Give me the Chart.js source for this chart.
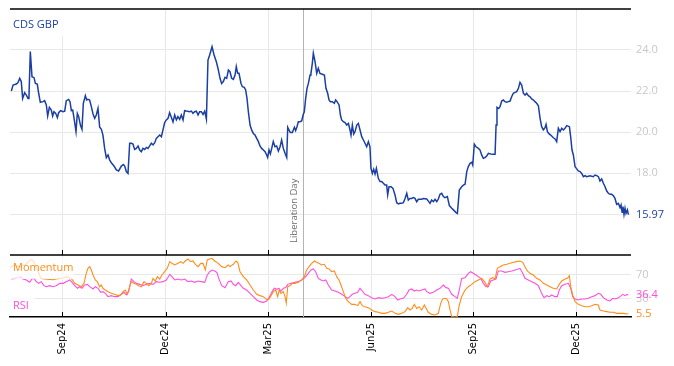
<!DOCTYPE html>
<html>
<head>
<meta charset="utf-8">
<script src="https://cdn.jsdelivr.net/npm/chart.js@4"></script>
<style>
  html, body { margin: 0; padding: 0; background: #fff; }
  #wrap { width: 674px; height: 366px; }
</style>
</head>
<body>
<div id="wrap"><canvas id="cdsChart" width="674" height="366"></canvas></div>
<script>
// x positions are trading-calendar days counted from mid July 2024
const tickDays = [46.4, 138, 229, 320.3, 410.7, 502];
const tickLabels = ["Sep24", "Dec24", "Mar25", "Jun25", "Sep25", "Dec25"];
const libDay = 259.8;
const topTicks = [16, 18, 20, 22, 24];
const bottomTicks = [30, 70];

const cdsDays = [1.2,2.7,5.6,7.1,8.6,10,11.2,13,14.5,16,16.8,18,19.5,21.3,22.5,24.2,25.4,26.9,29.3,30.7,32.2,33.4,34.9,36.6,37.8,39,40.5,42,43.1,44.9,47,48.5,49.9,52,53.2,54.4,55.6,57,58.5,59.7,60.9,62.4,63.8,65,66.8,68,69.1,70.6,72.1,73.6,75.1,76.5,78,79.5,81,82.4,83.9,85.4,86.9,88.4,89.8,92.2,94.3,96.3,98.7,100.5,101.7,103.1,104.6,106.1,107.6,109,110.5,112,113.5,115,116.4,117.9,119.4,120.9,122.3,123.8,125.3,126.8,128.3,129.7,131.2,132.7,134.2,135.6,137.1,138.6,140.1,141.5,143,144.5,146,147.5,148.9,150.4,151.9,153.4,154.8,156.3,159.3,160.8,162.2,163.7,165.2,166.7,168.1,169.6,171.1,172.6,174.1,175.5,177,179.1,180.9,182.9,184.4,186.2,187.6,189.1,190.6,192.1,193.6,195,196.5,198,199.5,200.6,201.8,203,204.8,206,207.7,208.9,210.1,211.3,212.8,214.2,215.7,217.2,218.7,220.2,221.6,223.1,224.6,226.1,227.5,228.4,229.6,230.8,232,233.4,234.9,236.4,237.9,239.4,240.8,242.3,243.8,245.3,246.2,247.3,248.5,250.3,252.1,253.2,254.4,255.6,257.1,258.6,259.8,260.9,262.1,263.3,264.5,266,266.8,268,268.9,270.4,271.9,273.3,274.8,276.3,278.7,280.1,281.6,282.8,284,285.8,287.5,288.7,289.9,291.7,292.9,294,295.5,297,298.5,300,301.4,302.3,303.5,304.7,305.9,307.4,308.8,310.3,311.8,313.3,314.7,316.2,317.7,319.1,320,321.2,322.4,323.6,324.8,326.5,328,329.5,331,332.4,333.9,334.8,336,337.8,339.5,341.3,342.8,344.3,345.7,347.2,348.7,350.2,351.7,353.1,354.6,356.1,357.6,359,360.5,362,365,366.4,369.4,370.9,372.3,373.8,375.3,376.8,378.3,379.7,381.2,382.7,384.2,385.6,387.7,389.5,391.6,393.1,395.4,396.6,397.5,398.3,400.4,401.9,403.4,404.9,406.3,407.8,409.3,410.2,411.6,413.1,415.2,416.7,418.1,419.6,421.1,422.6,424.1,426.1,428.5,430,430.9,431.7,433.2,434.4,435.9,437.4,438.8,440.3,441.8,443.3,444.7,446.2,447.7,449.2,450.7,452.1,453.6,455.1,456.6,458,459.5,461,462.5,464,465.4,466.9,468.4,469.9,471.3,472.8,474.3,475.2,476.4,477.5,479.3,481.7,483.2,484.6,486.1,487.6,489.1,490.5,492,493.5,495.9,497,498.2,499.4,500.9,502.4,503.8,505.3,506.8,508.3,509.8,511.2,514.2,517.1,518.6,520.1,521.6,523,524.5,526,527.5,529,530.4,531.9,533.4,534.9,536.3,537.8,539.3,540.8,541.7,542.6,543.4,544.3,545.2,546.1,547.3,548.2];
const cdsValues = [22.00,22.29,22.34,22.41,22.62,22.46,21.64,21.92,21.80,21.64,21.69,23.92,22.70,22.65,22.37,22.34,21.89,21.45,21.48,21.53,21.32,20.78,21.20,21.07,20.78,20.99,20.91,20.70,20.94,21.04,20.99,21.02,21.53,21.59,21.48,21.04,21.07,20.59,20.02,20.91,20.75,20.34,20.13,21.40,21.77,21.56,21.59,21.56,21.24,20.88,20.67,20.83,21.15,20.23,20.13,19.85,19.20,18.75,18.88,18.63,18.50,18.34,18.15,18.10,18.34,18.41,18.34,18.07,17.98,19.45,19.45,19.41,19.15,19.20,19.32,19.12,19.04,19.20,19.15,19.25,19.20,19.32,19.45,19.37,19.48,19.69,19.77,19.85,19.77,20.10,20.46,20.59,20.67,20.94,20.72,20.49,20.83,20.59,20.75,20.62,20.83,20.59,21.04,21.02,20.99,21.02,20.91,20.99,21.02,20.83,20.99,20.99,20.86,21.02,20.63,23.51,23.76,24.16,23.76,23.43,23.10,22.62,22.37,22.46,22.67,22.62,23.02,22.94,22.62,22.57,22.78,23.19,22.86,22.86,22.37,22.21,22.18,22.05,21.64,20.99,20.34,20.10,19.93,19.85,19.69,19.53,19.32,19.20,19.12,19.04,18.88,18.76,19.12,18.93,19.20,19.53,19.28,19.32,19.07,19.28,19.61,19.20,18.96,18.76,20.23,20.10,19.97,19.97,20.23,20.07,20.26,20.50,20.50,20.54,20.83,20.99,21.64,22.13,22.37,22.78,22.86,23.35,23.84,23.43,22.86,23.11,22.86,22.83,22.78,22.13,21.89,21.56,21.48,21.48,21.40,21.56,21.48,21.32,20.83,20.59,20.50,20.46,20.34,20.42,20.10,19.85,20.34,19.90,20.02,20.34,20.42,20.10,19.77,19.61,19.45,19.28,19.53,19.28,18.23,17.98,18.18,17.95,18.23,17.74,17.58,17.58,17.50,17.41,17.41,16.93,17.33,17.33,17.25,16.93,16.55,16.49,16.52,16.52,16.55,16.76,17.01,16.68,16.76,16.76,16.80,16.76,16.60,16.72,16.72,16.76,16.73,16.63,16.52,16.68,16.60,16.72,16.60,16.73,16.96,17.01,16.85,16.80,16.85,16.41,16.28,16.20,16.07,16.03,16.63,17.17,17.33,17.41,17.45,18.07,18.31,18.47,18.52,18.39,19.40,19.28,19.20,19.12,18.88,18.72,18.75,18.83,18.96,18.93,18.91,18.91,20.34,21.20,21.15,21.24,21.51,21.56,21.48,21.45,21.48,21.51,21.72,21.89,21.93,21.97,22.13,22.42,22.29,21.89,21.80,21.89,21.77,21.72,21.61,21.56,21.48,21.40,21.28,20.67,20.26,20.10,20.21,20.37,20.02,19.93,19.85,19.72,19.66,19.53,20.18,20.02,20.18,20.10,20.18,20.31,20.26,19.77,19.12,18.88,18.31,18.20,18.10,18.07,17.98,17.82,17.87,17.82,17.87,17.82,17.90,17.87,17.82,17.61,17.71,17.50,17.33,17.12,17.01,16.96,16.96,16.89,16.76,16.47,16.52,16.31,16.44,16.08,16.36,15.98,16.28,16.03,16.20,15.97];

const momentumDays = [0.4,3.5,8.9,14.2,18.6,21.3,23.9,27.5,32.8,38.1,42.6,47,50.5,54.3,57.4,60.3,63.2,65.6,67.6,69.1,70.7,72.1,73.6,75.6,77.4,79.5,80.9,82.4,84.4,86.9,89.8,92.8,95.7,98.1,100.2,102.2,104,106.1,107.5,109.9,112,114.1,116.4,118.8,120.8,123,125.3,126.8,128.8,130.6,132.7,134.7,137.1,139.4,141.6,143.6,146,148.9,151.3,153.4,155.4,157.8,160.2,162.2,164.3,166.7,169.1,171.1,173.1,174.9,177,179.1,181.5,184.6,187.7,190.6,193.5,195,198,200.4,201.9,203.9,206.8,209.8,212.8,215.7,218.7,221.6,224.6,227.6,229.6,231.4,233.4,235.5,237.3,238.7,240.2,242.3,243.8,244.9,246.2,248.2,250.3,252.7,255.6,258.6,260.9,263,265.1,267.5,269.8,271.9,273.9,276.3,278.6,280.8,282.8,285.2,287.5,289.6,291.7,293.4,295.5,297.6,299.9,302.9,305.8,308.2,310.3,312.3,314.7,317.6,320.6,323.6,326.5,329.5,332.4,335.4,338.4,341.3,344.2,347.2,350.2,352.6,354.6,356.6,358.4,360.5,362.6,365,367.3,370.8,373.8,376.8,379.7,381.8,383.6,385.6,387.1,388.6,390.1,391.6,394.5,396.5,398.3,400.4,403.4,406.3,409.3,412.2,415.2,418.2,421.1,423.1,425.5,427.9,430,432,434.4,437.3,440.3,443.3,446.2,449.2,452.1,454.5,456.5,458.6,461,463.9,466.9,469.8,472.8,475.8,478.7,481.6,484.6,486.9,489.1,492,494.1,495.8,497.1,498.8,500.9,503.8,506.8,509.7,512.7,515.7,518.6,521.5,523,526,529,531.9,534.9,537.8,540.8,543.8,546.8,548.1];
const momentumValues = [83,86,84,88,96,92,80,64,63,62,64,65,67,64.4,56.1,53.3,50.5,56.1,72.8,81.1,83.9,78.3,70,61.7,58.9,50.5,53.3,47.8,45,42.2,39.4,37.8,35.6,36.7,42.2,45,37.8,50.5,58.9,56.1,54.4,52.2,50.5,58.9,56.1,52.2,56.1,64.4,60,67.2,63.3,70,75.5,81.1,92.2,89.4,86.7,89.4,92.2,89.4,93.3,96.7,92.2,93.3,87.8,83.9,89.4,89.4,78.3,95,96.7,97.8,93.3,89.4,83.9,82.2,86.7,83.9,87.8,93.3,91.1,75.5,67.2,61.7,53.3,45,37.8,35.6,33.9,29,30,35.6,42.2,45,33.9,45,39.4,42.2,33.9,22.8,50.5,52.2,56.1,56.1,57.8,61.7,67.2,78.3,83.9,89.4,93.3,91.1,89.4,86.7,87.8,81.1,80,75.5,76.7,67.2,61.7,53.3,42.2,31.1,25.6,21.1,21.1,18.9,25.6,18.9,17.2,15.6,11.7,8.9,7.8,6.1,6.1,7.8,10,6.1,4.4,6.1,8.9,15.6,11.7,14.4,21.1,14.4,17.2,11.7,20,7.8,4.4,3.3,6.1,22.8,30,31.1,30,25.6,11.7,0.6,0,0.6,20,33.9,45,50.5,54.4,58.9,61.7,64.4,57.8,50.5,63.3,65.5,63.3,81.1,83.9,86.7,87.8,89.4,91.1,92.2,93.3,91.1,83.9,76.7,72.8,70,64.4,61.7,56.1,53.3,50.5,47.8,46.7,54.4,60,63.3,64.4,68.9,50.5,36.7,25.6,21.1,18.9,17.2,17.2,18.9,21.1,20,11.7,10,8.9,7.8,7.8,6.1,6.1,6.1,5,5.5];

const rsiDays = [1.2,4.2,7.1,9.5,11.5,14.5,17.5,19.5,21.3,23.3,25.4,27.7,30.1,32.2,35.2,38.1,41,44.1,47,49.9,52.9,55,57.4,59.7,61.8,63.8,66.2,68.5,70.7,73.6,75.6,78,80.4,82.4,84.5,86.9,89.8,92.8,95.7,98.7,101.1,103.1,105.2,107.5,109.9,112,115,117.9,120.8,123.8,126.8,129.7,132.7,135.6,138.6,141.6,143.6,146,148.9,151.9,154.9,157.8,160.7,163.7,166.7,169.6,172.6,174.9,177,179.1,181.5,183.5,185,187.7,190.6,193.5,195.9,198,200.1,202.4,204.8,206.8,209.8,212.8,215.7,218.7,221.6,224.6,227.6,229.6,232,234.3,236.4,238.5,240.2,242.3,244.4,246.2,249.1,252.7,255.6,258.6,261.5,264.4,266.8,268.9,271,273.3,275.7,277.7,279.9,282.2,285.2,288.1,291,294.1,297,299.4,301.4,303.4,305.8,308.2,310.3,312.3,314.7,317.6,320.6,323.6,326.5,329.5,332.4,335.4,338.4,341.3,343.7,345.7,348.7,351.7,353.7,356.1,358.4,360.5,362.6,365,367.9,369.4,372.3,375.3,378.3,381.2,384.2,386.5,388.6,391.6,394.5,396.5,398.3,400.4,403.4,406.3,408.4,410.7,413.1,415.2,417.3,419.6,422,424,426.1,428.4,430.8,432.9,435.9,438.8,441.7,444.8,447.7,450.6,452.1,454.5,456.5,459.5,462.5,465.4,468.4,471.3,473.4,475.8,478.1,480.2,483.1,485.2,486.9,489.1,492,494.9,497.1,498.8,500.9,503.8,506.8,509.7,512.7,515.7,518.6,521.5,523.7,526,529,531.9,534.3,536.3,538.4,540.8,543.2,545.2,546.8,548.1];
const rsiValues = [63.3,64.4,65.5,67.2,63.3,61.7,57.8,63.3,64.4,58.9,56.1,58.9,52.2,50.5,52.2,50.5,52.2,56.1,56.1,58.9,61.7,57.8,52.2,47.8,50.5,47.8,53.3,54.4,50.5,46.7,50.5,47.8,41.1,42.2,39.4,33.9,35.6,33.9,33.9,37.8,41.1,36.7,42.2,63.3,58.9,56.1,54.4,52.2,54.4,56.1,54.4,58.9,57.8,58.9,61.7,71.1,67.2,61.7,63.3,61.7,63.3,58.9,60,57.8,60,58.9,57.8,70,75.5,78.3,76.7,74,64.4,52.2,48.9,58.9,60,54.4,52.2,57.8,52.2,47.8,45,39.4,33.9,28.3,25.6,24.4,26.7,32.2,41.1,47.8,46.1,47.8,43.3,47.8,48.9,54.4,56.1,57.8,58.9,61.7,65.5,72.8,78.3,80,75.5,64.4,61.7,60,61.7,53.3,45,43.3,41.1,37.8,33.9,31.1,33.9,37.8,39.4,41.1,47.8,43.3,37.8,35.6,32.2,30,32.2,31.1,32.2,33.9,37.8,33.9,28.3,30,31.1,37.8,45,46.7,43.3,45,43.3,45,46.7,42.2,39.4,41.1,45,47.8,53.3,48.9,47.8,37.8,33.9,31.1,45,64.4,65.5,72.8,75.5,72.8,70,67.2,64.4,56.1,50.5,50.5,60,61.7,63.3,76.7,76.7,74.4,75.5,76.7,78.3,80,81.1,72.8,64.4,61.7,58.9,56.1,52.2,39.4,32.2,35.6,33.9,36.7,33.9,33.9,45,52.2,54.4,56.1,47.8,33.9,30,28.3,30,30,31.1,33.9,35.6,39.4,37.8,32.2,28.3,26.7,31.1,30,31.1,33.9,37.8,35.6,37.8,36.4];

const blue = "#1b3fa3";
const orange = "#ff8c1a";
const pink = "#ff4fdc";
const tickGray = "#c8c8c8";
const gridGray = "#e8e8e8";
const labelFont = "11px 'Open Sans', sans-serif";

function toPoints(xs, ys) {
  return xs.map((x, i) => ({ x: x, y: ys[i] }));
}

const last = arr => arr[arr.length - 1];

// fixed right-hand axis width, and no extra label padding above/below the panes
function fitRight(s) {
  s.width = 43;
  s.paddingTop = 0;
  s.paddingBottom = 0;
}

const overlay = {
  id: "overlay",
  beforeDatasetsDraw(chart) {
    const { ctx, chartArea: a, scales } = chart;
    const lx = Math.round(scales.x.getPixelForValue(libDay)) + 0.5;
    ctx.save();
    ctx.strokeStyle = "#b4b4b4";
    ctx.lineWidth = 1;
    ctx.beginPath();
    ctx.moveTo(lx, a.top);
    ctx.lineTo(lx, a.bottom);
    ctx.stroke();
    ctx.translate(lx - 9, scales.yTop.bottom - 12);
    ctx.rotate(-Math.PI / 2);
    ctx.fillStyle = "#6e6e6e";
    ctx.font = "9.5px 'Open Sans', sans-serif";
    ctx.textAlign = "left";
    ctx.textBaseline = "middle";
    ctx.fillText("Liberation Day", 0, 0);
    ctx.restore();
  },
  afterDatasetsDraw(chart) {
    const { ctx, chartArea: a, scales } = chart;
    ctx.save();
    ctx.font = labelFont;
    ctx.textBaseline = "middle";
    ctx.textAlign = "left";

    ctx.fillStyle = "#fff";
    ctx.fillRect(a.left, a.top + 1, 53, 26);
    ctx.fillStyle = blue;
    ctx.fillText("CDS GBP", a.left + 3, a.top + 16);

    const bt = scales.yBot.top;
    ctx.fillStyle = "rgba(255,255,255,0.72)";
    ctx.fillRect(a.left, bt + 2, 64, 22);
    ctx.fillStyle = orange;
    ctx.fillText("Momentum", a.left + 3, bt + 13);

    ctx.fillStyle = "rgba(255,255,255,0.72)";
    ctx.fillRect(a.left, bt + 41, 25, 20);
    ctx.fillStyle = pink;
    ctx.fillText("RSI", a.left + 3, bt + 51);
    ctx.restore();
  },
  afterDraw(chart) {
    const { ctx, chartArea: a, scales } = chart;
    ctx.save();
    ctx.strokeStyle = "#000";
    ctx.lineWidth = 1.5;
    [a.top, scales.yTop.bottom].forEach(y => {
      ctx.beginPath();
      ctx.moveTo(a.left, y);
      ctx.lineTo(a.right, y);
      ctx.stroke();
    });
    ctx.lineWidth = 1;
    tickDays.forEach(d => {
      const px = Math.round(scales.x.getPixelForValue(d)) + 0.5;
      [scales.yTop.bottom, a.bottom].forEach(y => {
        ctx.beginPath();
        ctx.moveTo(px, y);
        ctx.lineTo(px, y - 5);
        ctx.stroke();
      });
    });

    ctx.font = labelFont;
    ctx.textAlign = "left";
    ctx.textBaseline = "middle";
    const lx = a.right + 5;
    ctx.fillStyle = blue;
    ctx.fillText(last(cdsValues).toFixed(2), lx, scales.yTop.getPixelForValue(last(cdsValues)));
    ctx.fillStyle = pink;
    ctx.fillText(String(last(rsiValues)), lx, scales.yBot.getPixelForValue(last(rsiValues)));
    ctx.fillStyle = orange;
    ctx.fillText(String(last(momentumValues)), lx, scales.yBot.getPixelForValue(last(momentumValues)));
    ctx.restore();
  }
};

new Chart(document.getElementById("cdsChart").getContext("2d"), {
  type: "line",
  data: {
    datasets: [
      {
        label: "CDS GBP",
        data: toPoints(cdsDays, cdsValues),
        yAxisID: "yTop",
        borderColor: blue,
        borderWidth: 1.5,
        pointRadius: 0,
        tension: 0
      },
      {
        label: "Momentum",
        data: toPoints(momentumDays, momentumValues),
        yAxisID: "yBot",
        borderColor: orange,
        borderWidth: 1.1,
        pointRadius: 0,
        tension: 0
      },
      {
        label: "RSI",
        data: toPoints(rsiDays, rsiValues),
        yAxisID: "yBot",
        borderColor: pink,
        borderWidth: 1.1,
        pointRadius: 0,
        tension: 0
      }
    ]
  },
  options: {
    responsive: false,
    animation: false,
    layout: { padding: { left: 10, top: 9, right: 0, bottom: 0 } },
    plugins: {
      legend: { display: false },
      tooltip: { enabled: false }
    },
    scales: {
      x: {
        type: "linear",
        min: 0,
        max: 550.5,
        afterBuildTicks: s => { s.ticks = tickDays.map(v => ({ value: v })); },
        afterFit: s => { s.height = 49; },
        ticks: {
          autoSkip: false,
          minRotation: 90,
          maxRotation: 90,
          padding: 6,
          color: "#000",
          font: { family: "DejaVu Sans", size: 10 },
          callback: v => tickLabels[tickDays.indexOf(v)]
        },
        grid: { color: gridGray, drawTicks: false },
        border: { color: "#000", width: 1.5 }
      },
      yTop: {
        type: "linear",
        position: "right",
        stack: "panes",
        stackWeight: 246,
        min: 14,
        max: 26,
        afterBuildTicks: s => { s.ticks = topTicks.map(v => ({ value: v })); },
        afterFit: fitRight,
        ticks: {
          padding: 5,
          color: tickGray,
          font: { family: "'Open Sans'", size: 11 },
          callback: v => Math.abs(v - last(cdsValues)) < 0.3 ? "" : v.toFixed(1)
        },
        grid: { color: gridGray, drawTicks: false },
        border: { display: false }
      },
      yBot: {
        type: "linear",
        position: "right",
        stack: "panes",
        stackWeight: 62,
        min: 0,
        max: 103.3,
        afterBuildTicks: s => { s.ticks = bottomTicks.map(v => ({ value: v })); },
        afterFit: fitRight,
        ticks: {
          padding: 5,
          color: tickGray,
          font: { family: "'Open Sans'", size: 11 },
          callback: v => String(v)
        },
        grid: { color: gridGray, drawTicks: false },
        border: { display: false }
      }
    }
  },
  plugins: [overlay]
});
</script>
</body>
</html>
